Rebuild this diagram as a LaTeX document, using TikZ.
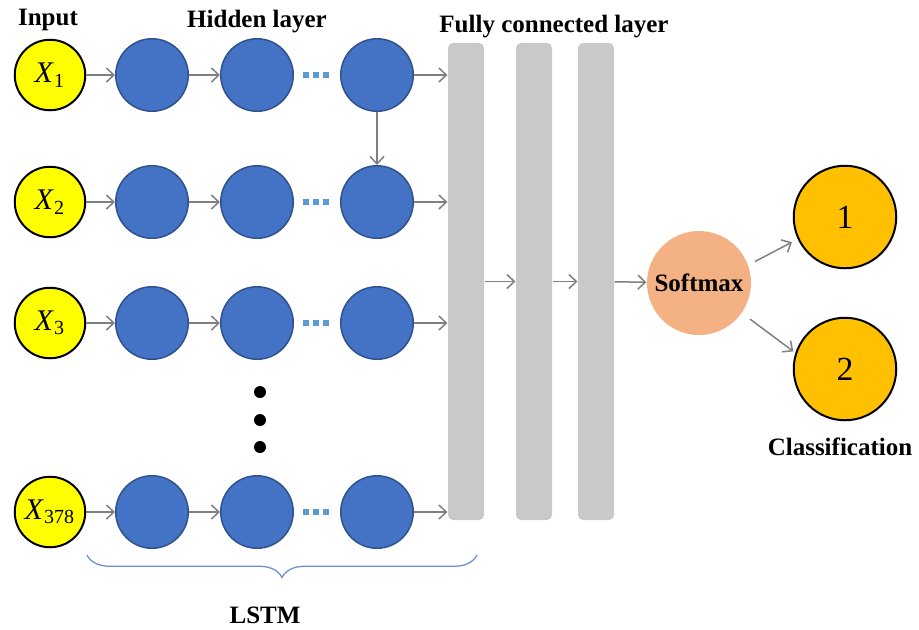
\documentclass[tikz,border=0pt]{standalone}
\usepackage{fontspec}
\setmainfont{Liberation Serif}
\usetikzlibrary{positioning,arrows.meta,decorations.pathreplacing}
\definecolor{inyellow}{HTML}{FFFF00}
\definecolor{hidblue}{HTML}{4472C4}
\definecolor{hidedge}{HTML}{2F528F}
\definecolor{fcgray}{HTML}{C9C9C9}
\definecolor{arrgray}{HTML}{808080}
\definecolor{softpeach}{HTML}{F4B183}
\definecolor{outorange}{HTML}{FFC000}
\definecolor{dotblue}{HTML}{5B9BD5}
\definecolor{braceblue}{HTML}{6A8FD0}

\begin{document}
\begin{tikzpicture}[x = .4pt, y = -.4pt,
  innode/.style = {circle, draw = black, line width = .8pt, fill = inyellow, minimum size = 28.2pt, inner sep = 0pt, font = \fontsize{12}{14}\selectfont},
  hidnode/.style = {circle, draw = hidedge, line width = .6pt, fill = hidblue, minimum size = 29pt, inner sep = 0pt},
  fcbar/.style = {rectangle, rounded corners = 2pt, fill = fcgray, minimum width = 14.4pt, minimum height = 190.8pt, inner sep = 0pt},
  softnode/.style = {circle, fill = softpeach, minimum size = 41.6pt, inner sep = 0pt, font = \fontsize{10}{12}\selectfont\bfseries},
  outnode/.style = {circle, draw = black, line width = .8pt, fill = outorange, minimum size = 41pt, inner sep = 0pt, font = \fontsize{13.5}{16}\selectfont},
  lbl/.style = {font = \fontsize{10}{12}\selectfont\bfseries, anchor = base},
  arr/.style = {-{Straight Barb[length = 3pt, width = 5.6pt]}, draw = arrgray, line width = .6pt}]
\useasboundingbox (0,0) rectangle (919,629);

% fully connected layer
\node[fcbar] (fc1) at (466,281.5) {};
\node[fcbar] (fc2) at (534,281.5) {};
\node[fcbar] (fc3) at (596,281.5) {};

% input and hidden layer
\foreach \r/\y/\lab in {1/75/1, 2/202/2, 3/323/3, 4/512/378} {
  \node[innode] (in\r) at (50,\y) {\textit{X}\textsubscript{\lab}};
  \node[hidnode] (ha\r) at (152,\y) {};
  \node[hidnode] (hb\r) at (257,\y) {};
  \node[hidnode] (hc\r) at (377,\y) {};
  \draw[arr] (in\r) -- (ha\r);
  \draw[arr] (ha\r) -- (hb\r);
  \draw[dotblue, line width = 2.4pt, dash pattern = on 2.4pt off 1.6pt] ([xshift = 3.6pt]hb\r.east) -- ++(26,0);
  \draw[arr] (hc\r) -- (hc\r -| fc1.west);
}
\draw[arr] (hc1) -- (hc2);
\foreach \y in {392,420,447} \fill (260,\y) circle (2.4pt);

% softmax and classification
\node[softnode] (soft) at (699,283) {Softmax};
\node[outnode] (out1) at (845,217) {1};
\node[outnode] (out2) at (845,369) {2};
\draw[arr] (fc1) -- (fc2);
\draw[arr] (fc2) -- (fc3);
\draw[arr] (fc3) -- (soft);
\draw[arr, shorten < = 3pt, shorten > = 2.6pt] (soft.20) -- (out1.205);
\draw[arr, shorten < = 4pt, shorten > = 1pt] (soft.-35) -- (out2.162);

% labels
\node[lbl] (inlbl) at (48,25) {Input};
\node[lbl] (hidlbl) at (257,27) {Hidden layer};
\node[lbl] (fclbl) at (554,32) {Fully connected layer};
\node[lbl] (cllbl) at (840,455) {Classification};
\node[lbl] (lstmlbl) at (265,623) {LSTM};

% brace under the LSTM part
\coordinate (brl) at (87,555);
\coordinate (brr) at (477,555);
\draw[braceblue, line width = .5pt, decorate, decoration = {brace, mirror, amplitude = 9pt}] (brl) -- (brr);
\end{tikzpicture}
\end{document}
